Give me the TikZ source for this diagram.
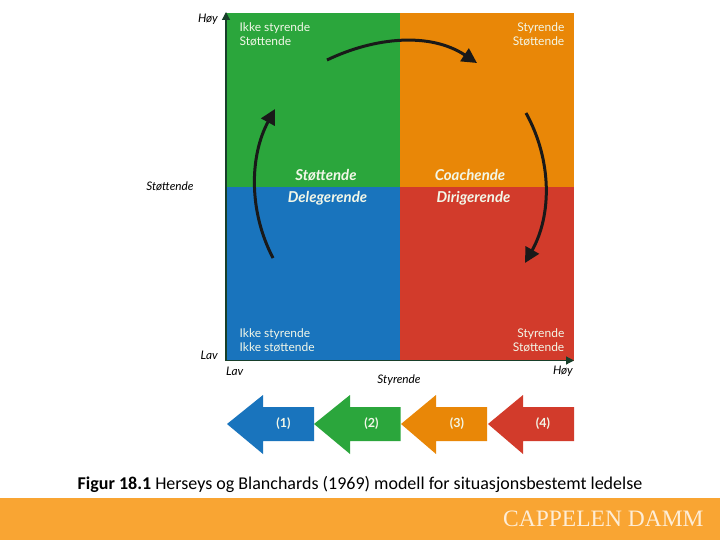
\documentclass[tikz,border=0pt]{standalone}
\usepackage{fontspec}
\setmainfont{Carlito}
\newfontfamily\labfont{Lato}
\newfontfamily\logofont{Liberation Serif}
\usetikzlibrary{arrows.meta}
\definecolor{cgreen}{HTML}{2BA63C}
\definecolor{corange}{HTML}{E98707}
\definecolor{cblue}{HTML}{1974BD}
\definecolor{cred}{HTML}{D23B2B}
\definecolor{cfoot}{HTML}{F9A533}
\definecolor{caxis}{HTML}{173F2A}
\definecolor{ctext}{HTML}{F2F7E8}
\tikzset{
  quad/.style={minimum width=174pt,minimum height=174pt,inner sep=0pt,outer sep=0pt},
  corner/.style={text=ctext,font=\labfont\fontsize{12}{14}\selectfont,inner sep=0pt},
  mid/.style={text=ctext,font=\labfont\fontsize{15}{16}\selectfont\itshape\bfseries,inner sep=0pt},
  axislab/.style={text=black,font=\labfont\fontsize{11.8}{13}\selectfont\itshape,inner sep=0pt},
  axisline/.style={draw=caxis,line width=1.2pt,-{Triangle[length=8pt,width=8pt]}},
  cycle/.style={draw=black!90,line width=3pt,-{Triangle[length=15pt,width=15pt]}},
  num/.style={text=ctext,font=\labfont\fontsize{12.5}{14}\selectfont\bfseries,inner sep=0pt}
}
\begin{document}
\begin{tikzpicture}[x=1pt,y=-1pt]
\useasboundingbox (0,0) rectangle (720,540);
\fill[white] (0,0) rectangle (720,540);
% quadrants
\node[quad,fill=cgreen,anchor=north west] (qg) at (226,13) {};
\node[quad,fill=corange,anchor=north west] (qo) at (400,13) {};
\node[quad,fill=cblue,anchor=north west] (qb) at (226,187) {};
\node[quad,fill=cred,anchor=north west] (qr) at (400,187) {};
% axes
\coordinate (origin) at (226,360.5);
\coordinate (ytop) at (226,12);
\coordinate (xend) at (574,360.5);
\draw[axisline] (origin) -- (ytop);
\draw[axisline] (origin) -- (xend);
% corner texts
\node[corner,anchor=north west,align=left] (t1) at (239.5,22) {Ikke styrende\\Støttende};
\node[corner,anchor=north east,align=right] (t2) at (564.5,22) {Styrende\\Støttende};
\node[corner,anchor=north west,align=left] (t3) at (239.5,328) {Ikke styrende\\Ikke støttende};
\node[corner,anchor=north east,align=right] (t4) at (564.5,328) {Styrende\\Støttende};
% centre texts
\node[mid] (m1) at (326,175) {Støttende};
\node[mid] (m2) at (327.5,198) {Delegerende};
\node[mid] (m3) at (470,175) {Coachende};
\node[mid] (m4) at (473.5,198) {Dirigerende};
% axis labels
\node[axislab,anchor=east] (h1) at (218,19) {Høy};
\node[axislab] (s1) at (170,186) {Støttende};
\node[axislab,anchor=east] (l1) at (218,355) {Lav};
\node[axislab,anchor=west] (l2) at (226,371) {Lav};
\node[axislab] (s2) at (399,380) {Styrende};
\node[axislab,anchor=east] (h2) at (573,371) {Høy};
% cycle arrows
\coordinate (a1s) at (327,60);
\coordinate (a1e) at (477,63);
\coordinate (a2s) at (526,113);
\coordinate (a2e) at (525,263);
\coordinate (a3s) at (273,258);
\coordinate (a3e) at (275,109);
\draw[cycle] (a1s) .. controls (375,37) and (430,32) .. (a1e);
\draw[cycle] (a2s) .. controls (552,160) and (552,215) .. (a2e);
\draw[cycle] (a3s) .. controls (248,210) and (250,155) .. (a3e);
% block arrows
\fill[cblue] (227,424) -- (263,395) -- (263,407) -- (314,407) -- (314,441) -- (263,441) -- (263,454) -- cycle;
\fill[cgreen] (314,424) -- (350,395) -- (350,407) -- (400.5,407) -- (400.5,441) -- (350,441) -- (350,454) -- cycle;
\fill[corange] (401,424) -- (436,395) -- (436,407) -- (487,407) -- (487,441) -- (436,441) -- (436,454) -- cycle;
\fill[cred] (488,424) -- (523,395) -- (523,407) -- (574,407) -- (574,441) -- (523,441) -- (523,454) -- cycle;
\node[num] (n1) at (283.5,424) {(1)};
\node[num] (n2) at (371.5,424) {(2)};
\node[num] (n3) at (457,424) {(3)};
\node[num] (n4) at (543,424) {(4)};
% caption
\node[anchor=base,inner sep=0pt,font=\fontsize{18}{20}\selectfont] (cap) at (360,489) {\textbf{Figur 18.1} Herseys og Blanchards (1969) modell for situasjonsbestemt ledelse};
% footer
\fill[cfoot] (0,498) rectangle (720,540);
\node[anchor=base west,inner sep=0pt,text=white!80!cfoot,font=\logofont\fontsize{23.5}{27}\selectfont] (logo) at (503,526) {CAPPELEN DAMM};
\end{tikzpicture}
\end{document}
